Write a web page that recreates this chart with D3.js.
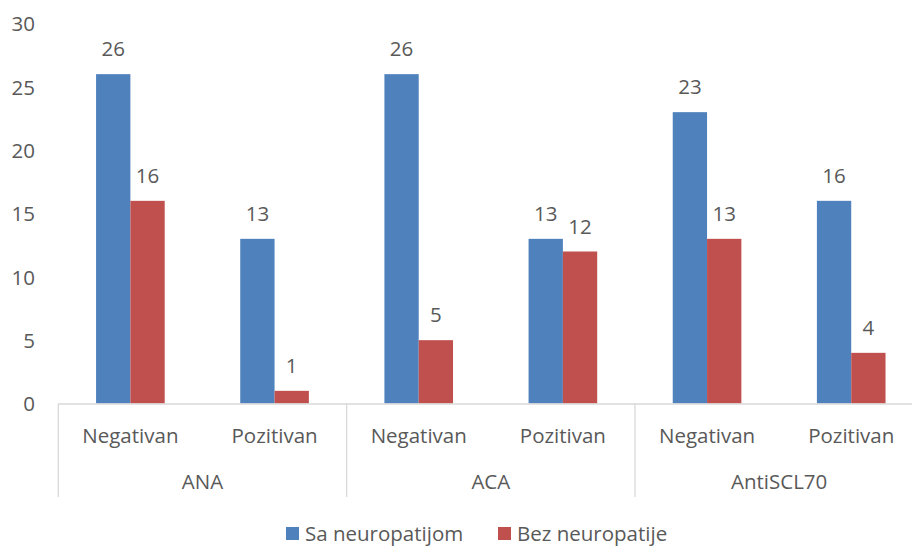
<!DOCTYPE html>
<html>
<head>
<meta charset="utf-8">
<script src="https://cdn.jsdelivr.net/npm/d3@7/dist/d3.min.js"></script>
<style>
  html, body { margin: 0; padding: 0; background: #fff; }
  svg { display: block; }
  text { font-family: "Open Sans", "Liberation Sans", sans-serif; fill: #595959; }
</style>
</head>
<body>
<svg id="chart" width="912" height="546"></svg>
<script>
// Antibody groups and result subcategories
const groups = ["ANA", "ACA", "AntiSCL70"];
const subcats = ["Negativan", "Pozitivan"];
const seriesNames = ["Sa neuropatijom", "Bez neuropatije"];
const seriesColors = ["#4F81BD", "#C0504D"];

// Counts, ordered group by group, Negativan then Pozitivan
const saNeuropatijom = [26, 13, 26, 13, 23, 16];
const bezNeuropatije = [16, 1, 5, 12, 13, 4];

const yTicks = [0, 5, 10, 15, 20, 25, 30];

const FS = "20.5px";
const svg = d3.select("#chart");
const W = 912;
const plotLeft = 58.3, plotRight = W + 11.3;
const y0 = 403.5, yTop = 23.5;

// Flattened category rows: one per group/subcategory pair
const rows = [];
groups.forEach((g, gi) => subcats.forEach((s, si) => {
  const i = gi * subcats.length + si;
  rows.push({ key: g + "|" + s, group: g, sub: s, values: [saNeuropatijom[i], bezNeuropatije[i]] });
}));

const x = d3.scaleBand().domain(rows.map(r => r.key)).range([plotLeft, plotRight]);
const xg = d3.scaleBand().domain(groups).range([plotLeft, plotRight]);
const y = d3.scaleLinear().domain([0, 30]).range([y0, yTop]);

const barW = x.bandwidth() * 0.238;
const xs = d3.scaleBand().domain(seriesNames).range([x.bandwidth() / 2 - barW, x.bandwidth() / 2 + barW]);

// Y axis labels (no axis line)
const yAxis = d3.axisLeft(y).tickValues(yTicks).tickSize(0).tickPadding(0);
const yG = svg.append("g").attr("transform", `translate(35,0)`).call(yAxis);
yG.select(".domain").remove();
yG.selectAll("text").attr("font-size", FS).attr("fill", "#595959")
  .attr("font-family", '"Open Sans", sans-serif').attr("dy", "0.35em");

// Bars
const cat = svg.append("g").selectAll("g").data(rows).join("g")
  .attr("transform", d => `translate(${x(d.key)},0)`);

cat.selectAll("rect").data(d => d.values.map((v, i) => ({ v, s: seriesNames[i], c: seriesColors[i] })))
  .join("rect")
  .attr("x", d => xs(d.s))
  .attr("width", xs.bandwidth())
  .attr("y", d => y(d.v))
  .attr("height", d => y0 - y(d.v))
  .attr("fill", d => d.c);

// Value labels
cat.selectAll("text.val").data(d => d.values.map((v, i) => ({ v, s: seriesNames[i] })))
  .join("text")
  .attr("class", "val")
  .attr("x", d => xs(d.s) + xs.bandwidth() / 2)
  .attr("y", d => y(d.v) - 18)
  .attr("text-anchor", "middle")
  .attr("font-size", FS)
  .text(d => d.v);

// Category axis: baseline and group separators
const axisColor = "#D9D9D9";
svg.append("line").attr("x1", plotLeft).attr("x2", plotRight)
  .attr("y1", y0 + 0.5).attr("y2", y0 + 0.5).attr("stroke", axisColor).attr("stroke-width", 1.3);
groups.concat(["__end"]).forEach((g, i) => {
  const xx = i < groups.length ? xg(g) : plotRight;
  svg.append("line").attr("x1", xx).attr("x2", xx).attr("y1", y0).attr("y2", 497)
    .attr("stroke", axisColor).attr("stroke-width", 1.3);
});

// Subcategory labels
svg.append("g").selectAll("text").data(rows).join("text")
  .attr("x", d => x(d.key) + x.bandwidth() / 2)
  .attr("y", 443)
  .attr("text-anchor", "middle")
  .attr("font-size", FS)
  .text(d => d.sub);

// Group labels
svg.append("g").selectAll("text").data(groups).join("text")
  .attr("x", d => xg(d) + xg.bandwidth() / 2)
  .attr("y", 489)
  .attr("text-anchor", "middle")
  .attr("font-size", FS)
  .text(d => d);

// Legend
const legendX = [286, 498];
const leg = svg.append("g").selectAll("g").data(seriesNames).join("g")
  .attr("transform", (d, i) => `translate(${legendX[i]},527)`);
leg.append("rect").attr("width", 13).attr("height", 13).attr("fill", (d, i) => seriesColors[i]);
leg.append("text").attr("x", 19).attr("y", 13.5).attr("font-size", FS).text(d => d);
</script>
</body>
</html>
